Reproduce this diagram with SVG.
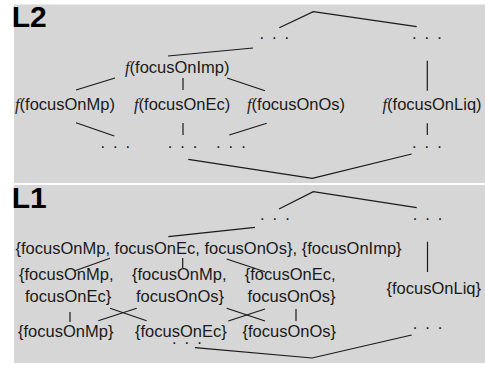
<svg xmlns="http://www.w3.org/2000/svg" width="485" height="369" viewBox="0 0 485 369">
<style>
.panel{fill:#d6d6d6}
.lvl{font-family:"Liberation Sans",Arial,sans-serif;font-weight:bold;font-size:30px;fill:#000}
.t{font-family:"Liberation Sans",Arial,sans-serif;font-size:16.5px;fill:#1a1a1a}
.fi{font-family:"Liberation Serif","Times New Roman",serif;font-style:italic}
.dots{font-family:"Liberation Sans",Arial,sans-serif;font-size:16.5px;letter-spacing:8px;fill:#1a1a1a}
.e{fill:none;stroke:#1a1a1a;stroke-width:1.2}
</style>
<rect class="panel" x="14" y="4.5" width="471" height="178.5"/>
<rect class="panel" x="14" y="185" width="471" height="178"/>
<text class="lvl" x="11.8" y="27">L2</text>
<text class="lvl" x="11.8" y="208">L1</text>

<g id="connectors">
<polyline class="e" points="279.3,27.7 313.3,11.7 416.7,26.7"/>
<line class="e" x1="168" y1="56" x2="253" y2="48"/>
<line class="e" x1="427.3" y1="60.7" x2="427.3" y2="90.7"/>
<line class="e" x1="115" y1="78" x2="76" y2="90"/>
<line class="e" x1="183" y1="78" x2="183" y2="90"/>
<line class="e" x1="227" y1="78" x2="265" y2="90.7"/>
<line class="e" x1="76" y1="122.7" x2="114.3" y2="136"/>
<line class="e" x1="183" y1="123" x2="183" y2="135"/>
<line class="e" x1="266.7" y1="123.3" x2="229.3" y2="135"/>
<line class="e" x1="427.3" y1="123.3" x2="427.3" y2="135"/>
<polyline class="e" points="188.3,159.3 312.3,178.3 411.7,154"/>

<polyline class="e" points="279,209 313.3,191.7 416.7,207.7"/>
<line class="e" x1="168.3" y1="236.7" x2="255" y2="227.3"/>
<line class="e" x1="427.5" y1="241.7" x2="427.5" y2="272"/>
<line class="e" x1="110" y1="258.3" x2="75" y2="270.7"/>
<line class="e" x1="182.7" y1="258" x2="182.7" y2="268"/>
<line class="e" x1="226.7" y1="259" x2="265" y2="271.7"/>
<line class="e" x1="70" y1="312" x2="70" y2="322"/>
<line class="e" x1="110" y1="308.3" x2="146.7" y2="320.7"/>
<line class="e" x1="136.7" y1="308.3" x2="98.3" y2="320.7"/>
<line class="e" x1="226.7" y1="308.3" x2="265" y2="321"/>
<line class="e" x1="265" y1="309" x2="228.3" y2="321"/>
<line class="e" x1="296" y1="309" x2="296" y2="321"/>
<polyline class="e" points="195,347.7 312,358 411.7,335"/>
</g>

<g id="l2-top-dots-a"><text class="dots" x="259.4" y="39.3">...</text></g>
<g id="l2-top-dots-b"><text class="dots" x="412" y="39.3">...</text></g>
<g id="l2-imp"><text class="t" x="125" y="73"><tspan class="fi">f</tspan>(focusOnImp)</text></g>
<g id="l2-mp"><text class="t" x="15" y="110"><tspan class="fi">f</tspan>(focusOnMp)</text></g>
<g id="l2-ec"><text class="t" x="134" y="110"><tspan class="fi">f</tspan>(focusOnEc)</text></g>
<g id="l2-os"><text class="t" x="247" y="110"><tspan class="fi">f</tspan>(focusOnOs)</text></g>
<g id="l2-liq"><text class="t" x="382.5" y="110"><tspan class="fi">f</tspan>(focusOnLiq)</text></g>
<g id="l2-bot-dots-a"><text class="dots" x="100.4" y="147.7">...</text></g>
<g id="l2-bot-dots-b"><text class="dots" x="167.7" y="147.7">...</text></g>
<g id="l2-bot-dots-c"><text class="dots" x="216" y="147.7">...</text></g>
<g id="l2-bot-dots-d"><text class="dots" x="412" y="147.7">...</text></g>

<g id="l1-top-dots-a"><text class="dots" x="260" y="220.3">...</text></g>
<g id="l1-top-dots-b"><text class="dots" x="412.7" y="220.3">...</text></g>
<g id="l1-all"><text class="t" x="15.5" y="254">{focusOnMp, focusOnEc, focusOnOs}, {focusOnImp}</text></g>
<g id="l1-mp-ec"><text class="t" x="19" y="280">{focusOnMp,</text><text class="t" x="25" y="302">focusOnEc}</text></g>
<g id="l1-mp-os"><text class="t" x="132" y="280">{focusOnMp,</text><text class="t" x="136" y="302">focusOnOs}</text></g>
<g id="l1-ec-os"><text class="t" x="244.7" y="280">{focusOnEc,</text><text class="t" x="247.5" y="302">focusOnOs}</text></g>
<g id="l1-liq"><text class="t" x="386.5" y="294">{focusOnLiq}</text></g>
<g id="l1-mp"><text class="t" x="18" y="336.5">{focusOnMp}</text></g>
<g id="l1-ec"><text class="t" x="135" y="336.5">{focusOnEc}</text></g>
<g id="l1-os"><text class="t" x="242.5" y="336.5">{focusOnOs}</text></g>
<g id="l1-bot-dots-a"><text class="dots" x="172" y="343.5">...</text></g>
<g id="l1-bot-dots-b"><text class="dots" x="412.7" y="329.3">...</text></g>
</svg>
